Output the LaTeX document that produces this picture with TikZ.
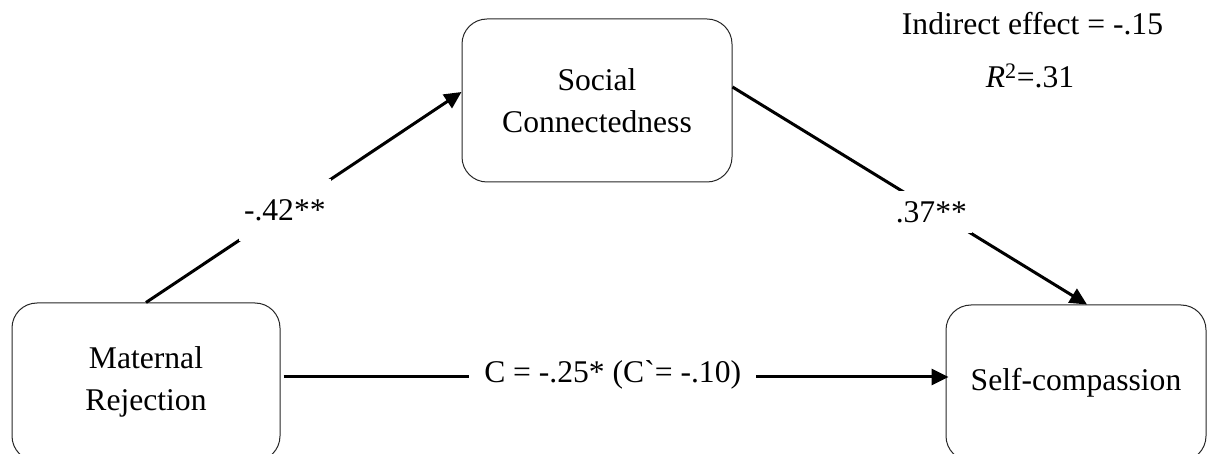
\documentclass[tikz,border=0pt]{standalone}
\usepackage{fontspec}
\setmainfont{Liberation Serif}
\usetikzlibrary{arrows.meta}
\begin{document}
\begin{tikzpicture}[x=1pt,y=-1pt,
  every node/.style={font=\fontsize{31.6}{41.5}\selectfont},
  varbox/.style={draw=black!85, line width=1pt, rounded corners=25pt,
    align=center, inner sep=0pt},
  effect/.style={line width=3pt, -{Triangle[length=17pt,width=16pt]}},
  coef/.style={fill=white, inner xsep=5pt, inner ysep=10pt}]
\useasboundingbox (0,0) rectangle (1208,454);
\clip (0,0) rectangle (1208,454);

% variables
\node[varbox, minimum width=268pt, minimum height=158pt] (mr) at (146,382) {Maternal\\Rejection};
\node[varbox, minimum width=270pt, minimum height=163pt] (sc) at (597,100.5) {Social\\Connectedness};
\node[varbox, minimum width=260pt, minimum height=156pt] (sf) at (1076,383) {Self-compassion};

% paths a, b and c
\draw[effect] (mr.north) -- node[coef, pos=0.44, inner ysep=20pt] {-.42**} ([yshift=8.5pt]sc.west);
\draw[effect] ([yshift=13.5pt]sc.east) -- node[coef, pos=0.575, xshift=-5pt] {.37**} ([xshift=11pt]sf.north);
\draw[effect] ([xshift=3pt,yshift=5pt]mr.east)
  -- node[coef, pos=0.495, inner xsep=15pt, yshift=2pt] {C = -.25* (C\textasciigrave= -.10)}
  ([xshift=3pt,yshift=5pt]mr.east -| sf.west);

% model summary
\node[anchor=base] (ind) at (1032.5,35) {Indirect effect = -.15};
\node[anchor=base] (rsq) at (1030,88) {\textit{R}\textsuperscript{2}=.31};
\end{tikzpicture}
\end{document}
